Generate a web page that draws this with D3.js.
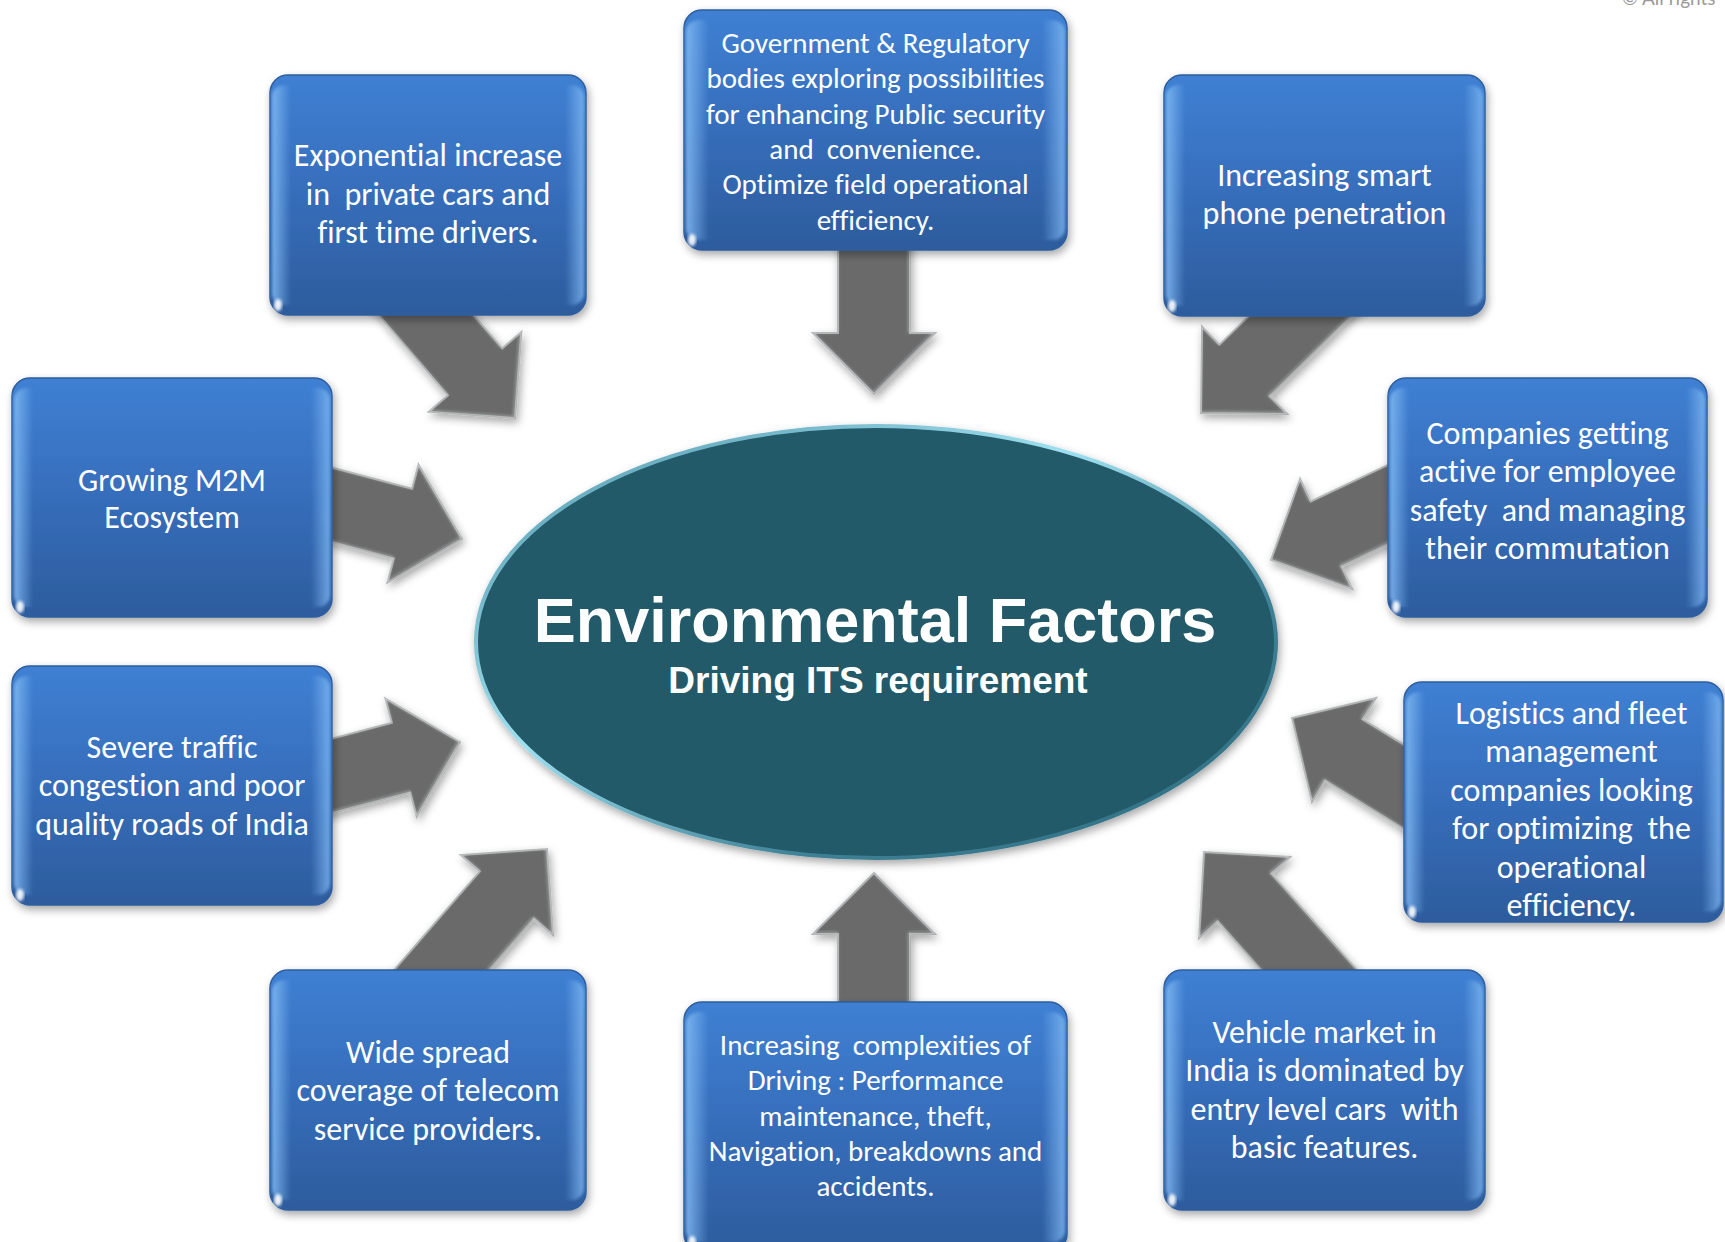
<!DOCTYPE html>
<html>
<head>
<meta charset="utf-8">
<script src="https://cdn.jsdelivr.net/npm/d3@7"></script>
<style>
  body { margin: 0; background: #fff; }
  svg { display: block; }
  .box-text { fill: #fff; font-family: Carlito, Lato, "Open Sans", sans-serif; text-anchor: middle; font-variant-ligatures: none; }
  .title { fill: #fff; font-family: "Liberation Sans", Arial, sans-serif; font-weight: bold; text-anchor: middle; }
</style>
</head>
<body>
<div id="chartContainer"></div>
<script>
var width = 1725;
var height = 1242;

// centre of the diagram
var centerTitle = "Environmental Factors";
var centerSubtitle = "Driving ITS requirement";

// the ten drivers, clockwise from top-left
var driverIds = ["cars", "gov", "phone", "companies", "logistics", "vehicle", "complexity", "telecom", "traffic", "m2m"];
var driverLines = [
  ["Exponential increase", "in  private cars and", "first time drivers."],
  ["Government & Regulatory", "bodies exploring possibilities", "for enhancing Public security", "and  convenience.", "Optimize field operational", "efficiency."],
  ["Increasing smart", "phone penetration"],
  ["Companies getting", "active for employee", "safety  and managing", "their commutation"],
  ["Logistics and fleet", "management", "companies looking", "for optimizing  the", "operational", "efficiency."],
  ["Vehicle market in", "India is dominated by", "entry level cars  with", "basic features."],
  ["Increasing  complexities of", "Driving : Performance", "maintenance, theft,", "Navigation, breakdowns and", "accidents."],
  ["Wide spread", "coverage of telecom", "service providers."],
  ["Severe traffic", "congestion and poor", "quality roads of India"],
  ["Growing M2M", "Ecosystem"]
];
var footnote = "© All rights";

/***** Layout (pixels) *****/
// box: [x, y, w, h], text: first baseline, line step, font size, x shift
var boxLayout = {
  cars:       {box: [270, 75, 316, 240],   base: 166, step: 38.5, size: 32},
  gov:        {box: [684, 10, 383, 240],   base: 53,  step: 35.3, size: 29},
  phone:      {box: [1164, 75, 321, 241],  base: 186, step: 38,   size: 32},
  companies:  {box: [1388, 378, 319, 239], base: 444, step: 38.3, size: 32},
  logistics:  {box: [1404, 682, 319, 240], base: 724, step: 38.4, size: 32, dx: 8},
  vehicle:    {box: [1164, 970, 321, 240], base: 1043, step: 38.4, size: 32},
  complexity: {box: [684, 1002, 383, 250], base: 1055, step: 35.3, size: 29},
  telecom:    {box: [270, 970, 316, 240],  base: 1063, step: 38.4, size: 32},
  traffic:    {box: [12, 666, 320, 239],   base: 758, step: 38.4, size: 32},
  m2m:        {box: [12, 378, 320, 239],   base: 491, step: 37,   size: 32}
};
// arrow: tip [x, y], heading in degrees (screen), length from the box
var arrowLayout = {
  cars:       {tip: [515, 418],  angle: 49.2,   len: 195},
  gov:        {tip: [874, 394],  angle: 90,     len: 175},
  phone:      {tip: [1201, 413], angle: 135.7,  len: 195},
  companies:  {tip: [1271, 560], angle: 154.7,  len: 175},
  logistics:  {tip: [1292, 718], angle: -148.4, len: 175},
  vehicle:    {tip: [1204, 852], angle: -131.7, len: 215},
  complexity: {tip: [874, 873],  angle: -90,    len: 175},
  telecom:    {tip: [547, 849],  angle: -49,    len: 215},
  traffic:    {tip: [460, 742],  angle: -14.8,  len: 165},
  m2m:        {tip: [462, 539],  angle: 14.7,   len: 165}
};
var ellipseLayout = {cx: 876, cy: 642, rx: 400, ry: 216};

var svg = d3.select("#chartContainer")
  .append("svg")
  .attr("width", width)
  .attr("height", height);

/***** Defs: gradients and shadows *****/
var defs = svg.append("defs");

var boxGrad = defs.append("linearGradient").attr("id", "boxGrad")
  .attr("x1", 0).attr("y1", 0).attr("x2", 0).attr("y2", 1);
boxGrad.append("stop").attr("offset", "0%").attr("stop-color", "#3f80d3");
boxGrad.append("stop").attr("offset", "45%").attr("stop-color", "#376fbd");
boxGrad.append("stop").attr("offset", "100%").attr("stop-color", "#2d5c9d");

var edgeGrad = defs.append("linearGradient").attr("id", "edgeGrad")
  .attr("x1", 0).attr("y1", 0).attr("x2", 1).attr("y2", 0);
edgeGrad.append("stop").attr("offset", "0%").attr("stop-color", "#7fb8f2").attr("stop-opacity", 0.9);
edgeGrad.append("stop").attr("offset", "6%").attr("stop-color", "#7fb8f2").attr("stop-opacity", 0);
edgeGrad.append("stop").attr("offset", "94%").attr("stop-color", "#7fb8f2").attr("stop-opacity", 0);
edgeGrad.append("stop").attr("offset", "100%").attr("stop-color", "#7fb8f2").attr("stop-opacity", 0.8);

var rimGrad = defs.append("linearGradient").attr("id", "rimGrad")
  .attr("x1", 0).attr("y1", 0).attr("x2", 1).attr("y2", 1);
rimGrad.append("stop").attr("offset", "0%").attr("stop-color", "#4f93a8");
rimGrad.append("stop").attr("offset", "40%").attr("stop-color", "#9fe0f0");
rimGrad.append("stop").attr("offset", "70%").attr("stop-color", "#3f8196");
rimGrad.append("stop").attr("offset", "100%").attr("stop-color", "#2c6a7c");

var shadow = defs.append("filter").attr("id", "shadow")
  .attr("x", "-10%").attr("y", "-10%").attr("width", "130%").attr("height", "140%");
shadow.append("feDropShadow").attr("dx", 2).attr("dy", 4).attr("stdDeviation", 4)
  .attr("flood-color", "#000").attr("flood-opacity", 0.35);

var soft = defs.append("filter").attr("id", "soft");
soft.append("feGaussianBlur").attr("stdDeviation", 1.6);

/***** Arrows *****/
var shaftHalf = 36, headHalf = 61, headLen = 61;

function arrowPoints(a) {
  var rad = a.angle * Math.PI / 180;
  var ux = Math.cos(rad), uy = Math.sin(rad);
  var nx = -uy, ny = ux;
  var tx = a.tip[0], ty = a.tip[1];
  var bx = tx - ux * a.len, by = ty - uy * a.len;
  var hx = tx - ux * headLen, hy = ty - uy * headLen;
  return [
    [bx + nx * shaftHalf, by + ny * shaftHalf],
    [hx + nx * shaftHalf, hy + ny * shaftHalf],
    [hx + nx * headHalf, hy + ny * headHalf],
    [tx, ty],
    [hx - nx * headHalf, hy - ny * headHalf],
    [hx - nx * shaftHalf, hy - ny * shaftHalf],
    [bx - nx * shaftHalf, by - ny * shaftHalf]
  ];
}

var line = d3.line().curve(d3.curveLinearClosed);

var arrows = svg.append("g").attr("id", "arrows")
  .selectAll("g")
  .data(driverIds)
  .join("g");

arrows.append("path")
  .attr("d", (d) => line(arrowPoints(arrowLayout[d])))
  .attr("fill", "#6b6b6b")
  .attr("stroke", "#a9a9a9")
  .attr("stroke-width", 2)
  .attr("stroke-linejoin", "miter")
  .attr("filter", "url(#shadow)");

// bevel highlight
arrows.append("path")
  .attr("d", (d) => line(arrowPoints(arrowLayout[d])))
  .attr("fill", "none")
  .attr("stroke", "#e8eef2")
  .attr("stroke-width", 1.5)
  .attr("stroke-opacity", 0.6)
  .attr("transform", "translate(-1,-1)")
  .attr("filter", "url(#soft)");

/***** Centre ellipse *****/
var centre = svg.append("g").attr("id", "centre");
centre.append("ellipse")
  .attr("cx", ellipseLayout.cx).attr("cy", ellipseLayout.cy)
  .attr("rx", ellipseLayout.rx).attr("ry", ellipseLayout.ry)
  .attr("fill", "#225a69")
  .attr("stroke", "url(#rimGrad)")
  .attr("stroke-width", 4)
  .attr("filter", "url(#shadow)");

centre.append("text").attr("class", "title")
  .attr("x", 875).attr("y", 642)
  .style("font-size", "63px")
  .text(centerTitle);

centre.append("text").attr("class", "title")
  .attr("x", 878).attr("y", 693)
  .style("font-size", "37px")
  .text(centerSubtitle);

/***** Boxes *****/
var boxes = svg.append("g").attr("id", "boxes")
  .selectAll("g")
  .data(driverIds)
  .join("g");

boxes.append("rect")
  .attr("x", (d) => boxLayout[d].box[0])
  .attr("y", (d) => boxLayout[d].box[1])
  .attr("width", (d) => boxLayout[d].box[2])
  .attr("height", (d) => boxLayout[d].box[3])
  .attr("rx", 18)
  .attr("fill", "url(#boxGrad)")
  .attr("stroke", "#2f5e9f")
  .attr("stroke-width", 1.5)
  .attr("filter", "url(#shadow)");

// glassy side edges
boxes.append("rect")
  .attr("x", (d) => boxLayout[d].box[0] + 2)
  .attr("y", (d) => boxLayout[d].box[1] + 10)
  .attr("width", (d) => boxLayout[d].box[2] - 4)
  .attr("height", (d) => boxLayout[d].box[3] - 20)
  .attr("rx", 12)
  .attr("fill", "url(#edgeGrad)")
  .attr("filter", "url(#soft)");

// top highlight
boxes.append("line")
  .attr("x1", (d) => boxLayout[d].box[0] + 18)
  .attr("x2", (d) => boxLayout[d].box[0] + boxLayout[d].box[2] - 18)
  .attr("y1", (d) => boxLayout[d].box[1] + 6)
  .attr("y2", (d) => boxLayout[d].box[1] + 6)
  .attr("stroke", "#8cc3f7")
  .attr("stroke-width", 5)
  .attr("stroke-linecap", "round")
  .attr("stroke-opacity", 0.75)
  .attr("filter", "url(#soft)");

// corner glint
boxes.append("ellipse")
  .attr("cx", (d) => boxLayout[d].box[0] + 8)
  .attr("cy", (d) => boxLayout[d].box[1] + boxLayout[d].box[3] - 10)
  .attr("rx", 4).attr("ry", 6)
  .attr("fill", "#fff")
  .attr("fill-opacity", 0.9)
  .attr("filter", "url(#soft)");

boxes.each(function(d, i) {
  var lay = boxLayout[d];
  var cx = lay.box[0] + lay.box[2] / 2 + (lay.dx || 0);
  d3.select(this).append("text")
    .attr("class", "box-text")
    .style("font-size", lay.size + "px")
    .selectAll("tspan")
    .data(driverLines[i])
    .join("tspan")
    .attr("x", cx)
    .attr("y", (t, j) => lay.base + j * lay.step)
    .style("white-space", "pre")
    .text((t) => t);
});

/***** Footnote, clipped at the top edge as in the source *****/
svg.append("text")
  .attr("x", 1622).attr("y", 5)
  .style("font-family", "Lato, sans-serif")
  .style("font-size", "19px")
  .attr("fill", "#9a9a9a")
  .text(footnote);
</script>
</body>
</html>
